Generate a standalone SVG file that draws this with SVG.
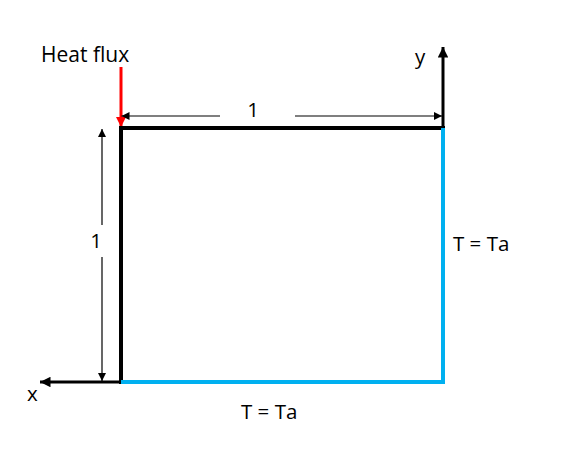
<svg xmlns="http://www.w3.org/2000/svg" width="580" height="458" viewBox="0 0 580 458">
<defs>
<marker id="ah" viewBox="0 0 10 10" refX="10" refY="5" markerWidth="3.5" markerHeight="3.5" orient="auto-start-reverse" markerUnits="strokeWidth"><path d="M0,0 L10,5 L0,10 z" fill="#000"/></marker>
<marker id="ahs" viewBox="0 0 10 10" refX="10" refY="5" markerWidth="10" markerHeight="8" orient="auto-start-reverse" markerUnits="userSpaceOnUse"><path d="M0,0 L10,5 L0,10 z" fill="#000"/></marker>
<marker id="ahr" viewBox="0 0 10 10" refX="10" refY="5" markerWidth="3.5" markerHeight="3.5" orient="auto" markerUnits="strokeWidth"><path d="M0,0 L10,5 L0,10 z" fill="#f00"/></marker>
</defs>
<style>
text{font-family:"Open Sans","Liberation Sans",sans-serif;font-size:20.5px;fill:#000}
.edge{stroke-width:4;fill:none;stroke-linecap:square}
.dim{stroke:#000;stroke-width:1.2;fill:none}
</style>
<rect width="580" height="458" fill="#fff"/>
<g id="connectors">
<line x1="443" y1="128" x2="443" y2="47" stroke="#000" stroke-width="3" marker-end="url(#ah)"/>
<line x1="121" y1="382" x2="40" y2="382" stroke="#000" stroke-width="3" marker-end="url(#ah)"/>
<line x1="121" y1="67" x2="121" y2="127" stroke="#f00" stroke-width="3" marker-end="url(#ahr)"/>
<line class="dim" x1="121.5" y1="116" x2="220" y2="116" marker-start="url(#ahs)"/>
<line class="dim" x1="295" y1="116" x2="442" y2="116" marker-end="url(#ahs)"/>
<line class="dim" x1="102" y1="129" x2="102" y2="225" marker-start="url(#ahs)"/>
<line class="dim" x1="102" y1="257" x2="102" y2="381" marker-end="url(#ahs)"/>
</g>
<g id="domain">
<line class="edge" x1="121" y1="128" x2="443" y2="128" stroke="#000"/>
<line class="edge" x1="121" y1="128" x2="121" y2="382" stroke="#000"/>
<line class="edge" x1="443" y1="130" x2="443" y2="382" stroke="#00B0F0"/>
<line class="edge" x1="123" y1="382" x2="443" y2="382" stroke="#00B0F0"/>
</g>
<g id="labels">
<text x="41" y="62" style="font-size:21px">Heat flux</text>
<text x="415" y="64">y</text>
<text x="27" y="401">x</text>
<text x="253" y="117" text-anchor="middle">1</text>
<text x="96" y="248" text-anchor="middle">1</text>
<text x="453" y="251">T = Ta</text>
<text x="241" y="419">T = Ta</text>
</g>
</svg>
